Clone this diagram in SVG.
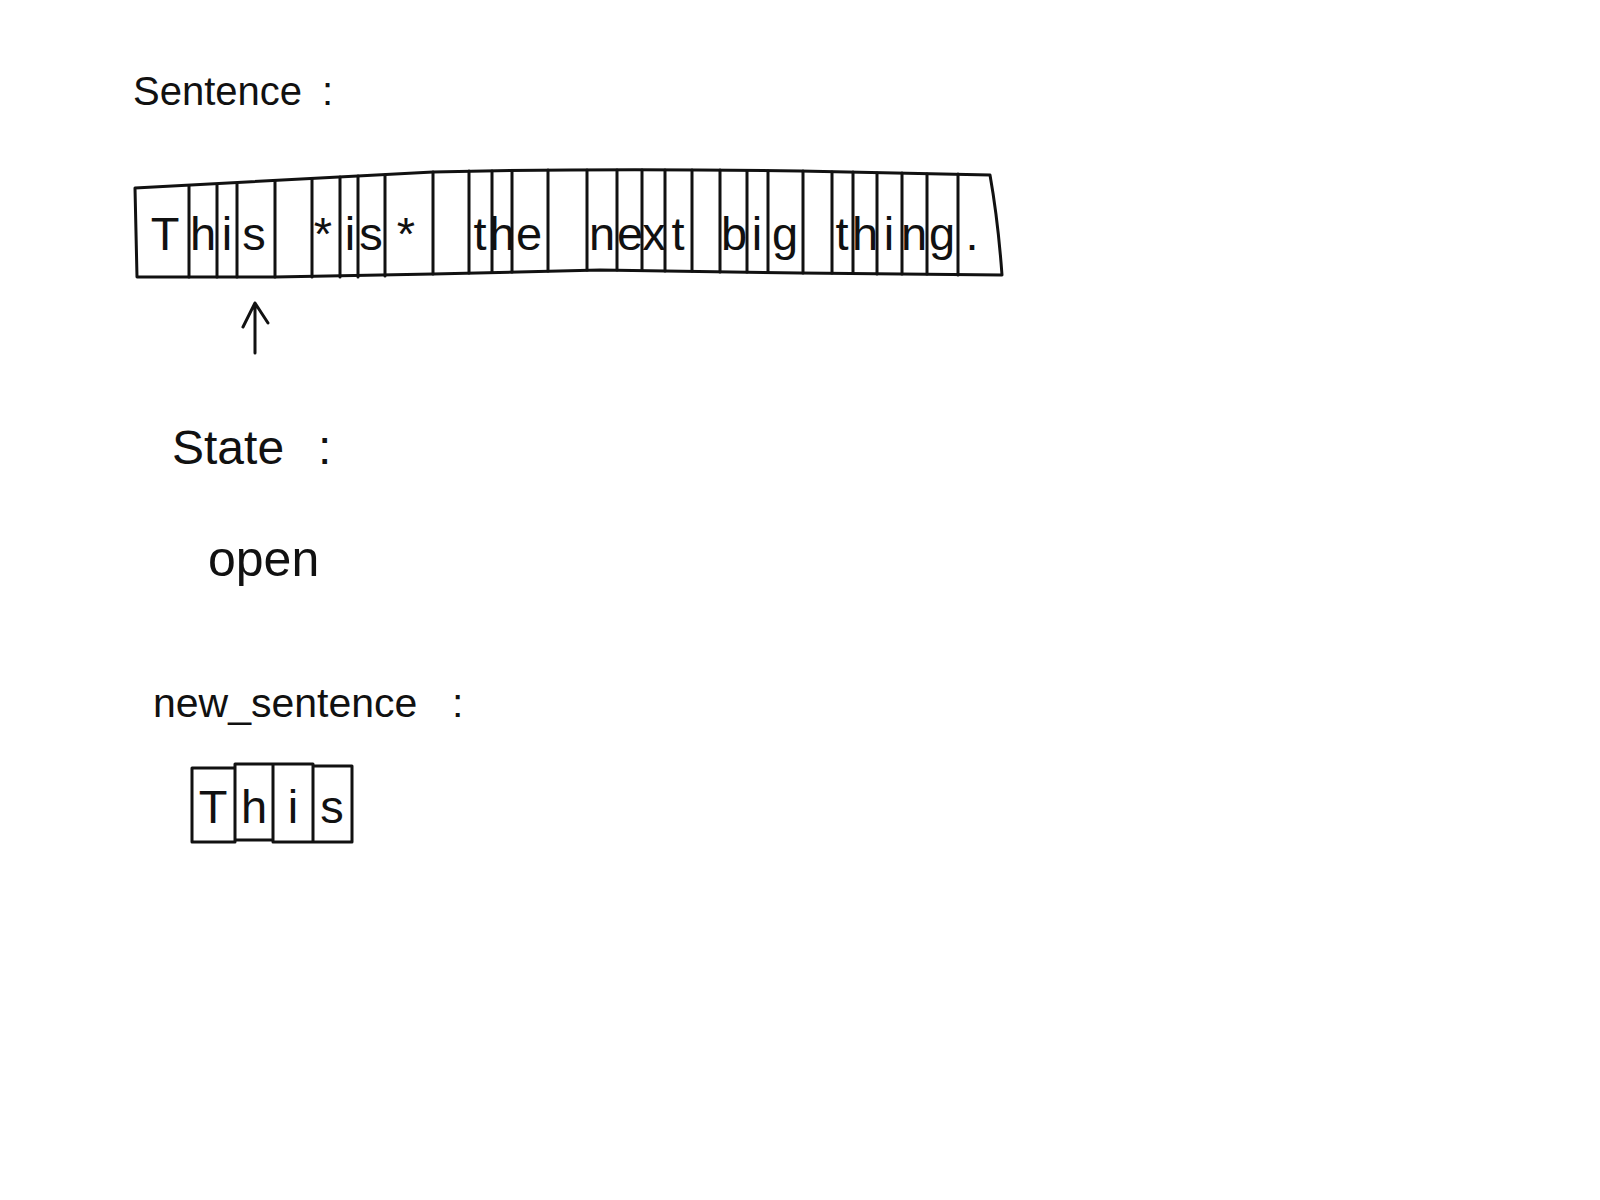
<svg xmlns="http://www.w3.org/2000/svg" width="1600" height="1200" viewBox="0 0 1600 1200">
<style>
.bg{fill:#ffffff}
.ln{fill:none;stroke:#111111;stroke-width:3;stroke-linecap:round;stroke-linejoin:round}
.lbl{font-family:"Liberation Sans","DejaVu Sans",sans-serif;fill:#111111}
.ch{font-family:"Liberation Sans","DejaVu Sans",sans-serif;font-size:47px;fill:#111111;text-anchor:middle}
</style>
<rect class="bg" x="0" y="0" width="1600" height="1200"/>
<g id="label-sentence"><text class="lbl" x="133" y="105" font-size="40">Sentence</text><text class="lbl" x="322" y="105" font-size="40">:</text></g>
<g id="sentence-array">
<path class="ln" d="M135,188 Q280,180 433,172 Q600,168 800,171 L990,175 Q998,220 1002,275 L800,273 L600,270 L433,274 L275,277 L137,277 Q136,230 135,188 Z"/>
<path class="ln" d="M189,186V277M217,185V277M237,184V277M275,181V277M312,179V277M340,177V277M358,176V277M385,175V276M433,172V274M469,171V273M492,171V272M512,171V272M548,170V271M587,170V270M617,170V270M642,170V270M665,170V271M692,170V271M720,170V272M747,171V272M768,171V272M803,171V273M832,172V273M853,172V273M877,173V274M902,173V274M927,174V274M958,174V275"/>
<text class="ch" x="165" y="250">T</text>
<text class="ch" x="203" y="250">h</text>
<text class="ch" x="227" y="250">i</text>
<text class="ch" x="254" y="250">s</text>
<text class="ch" x="323" y="250">*</text>
<text class="ch" x="350" y="250">i</text>
<text class="ch" x="371" y="250">s</text>
<text class="ch" x="406" y="250">*</text>
<text class="ch" x="480" y="250">t</text>
<text class="ch" x="502" y="250">h</text>
<text class="ch" x="529" y="250">e</text>
<text class="ch" x="602" y="250">n</text>
<text class="ch" x="630" y="250">e</text>
<text class="ch" x="654" y="250">x</text>
<text class="ch" x="678" y="250">t</text>
<text class="ch" x="734" y="250">b</text>
<text class="ch" x="757" y="250">i</text>
<text class="ch" x="785" y="250">g</text>
<text class="ch" x="842" y="250">t</text>
<text class="ch" x="865" y="250">h</text>
<text class="ch" x="889" y="250">i</text>
<text class="ch" x="914" y="250">n</text>
<text class="ch" x="942" y="250">g</text>
<text class="ch" x="972" y="250">.</text>
</g>
<g id="connectors">
<path class="ln" d="M255,353V303M243,327L255,303L268,323"/>
</g>
<g id="label-state"><text class="lbl" x="172" y="464" font-size="48">State</text><text class="lbl" x="318" y="464" font-size="48">:</text></g>
<g id="state-value"><text class="lbl" x="208" y="576" font-size="50">open</text></g>
<g id="label-new-sentence"><text class="lbl" x="153" y="717" font-size="41">new_sentence</text><text class="lbl" x="452" y="717" font-size="41">:</text></g>
<g id="new-sentence-array">
<path class="ln" d="M192,768H235V842H192Z M235,764H273V840H235Z M273,764H313V842H273Z M313,766H352V842H313Z"/>
<text class="ch" x="213" y="823" font-size="48">T</text>
<text class="ch" x="254" y="823" font-size="48">h</text>
<text class="ch" x="293" y="823" font-size="48">i</text>
<text class="ch" x="332" y="823" font-size="48">s</text>
</g>
</svg>
